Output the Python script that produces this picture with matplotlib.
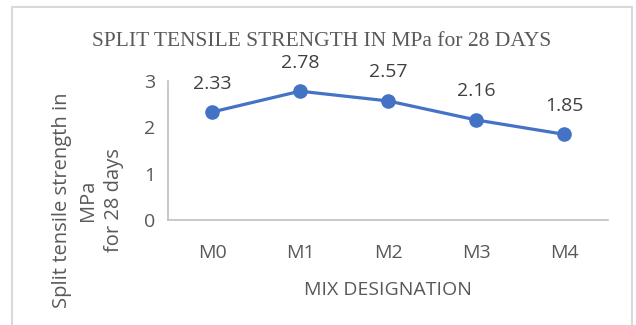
import matplotlib.pyplot as plt
from matplotlib.patches import Rectangle

mixes = ['M0', 'M1', 'M2', 'M3', 'M4']
strength = [2.33, 2.78, 2.57, 2.16, 1.85]
yticks = [0, 1, 2, 3]

grey = '#595959'
blue = '#4472C4'

fig = plt.figure(figsize=(6.36, 3.25), dpi=100)
ax = fig.add_axes([168/636, 1 - 220/325, 440/636, 139/325])

# outer chart border
fig.patches.append(Rectangle((12/636, -0.05), 620/636, 1.05 - 7/325,
                             transform=fig.transFigure, fill=False,
                             edgecolor='#D9D9D9', linewidth=1.5))

x = list(range(len(mixes)))
ax.plot(x, strength, color=blue, linewidth=2.3, marker='o', markersize=9.5)
for xi, v in zip(x, strength):
    ax.annotate(f'{v:.2f}', (xi, v), xytext=(0, 14), textcoords='offset points',
                ha='center', va='bottom', fontsize=14, color='#404040',
                family='Open Sans')

ax.set_xlim(-0.5, 4.5)
ax.set_ylim(0, 3)
ax.set_xticks(x)
ax.set_xticklabels(mixes, family='Open Sans', fontsize=14, color=grey)
ax.set_yticks(yticks)
ax.set_yticklabels([str(t) for t in yticks], family='Open Sans', fontsize=14, color=grey)
ax.tick_params(length=0)
ax.tick_params(axis='y', pad=9)
ax.tick_params(axis='x', pad=17)
for s in ['top', 'right']:
    ax.spines[s].set_visible(False)
for s in ['left', 'bottom']:
    ax.spines[s].set_color('#BFBFBF')
    ax.spines[s].set_linewidth(1.2)
ax.set_xlabel('MIX DESIGNATION', family='Open Sans', fontsize=14, color=grey, labelpad=14)

fig.text(322/636, 1 - 42/325, 'SPLIT TENSILE STRENGTH IN MPa for 28 DAYS',
         ha='center', va='center', family='Liberation Serif', fontsize=15.5, color=grey)
fig.text(88/636, 1 - 200/325, 'Split tensile strength in\nMPa\nfor 28 days',
         ha='center', va='center', rotation=90, family='Open Sans', fontsize=14.5,
         color=grey, linespacing=1.4)

fig.savefig('out.png', dpi=100)
